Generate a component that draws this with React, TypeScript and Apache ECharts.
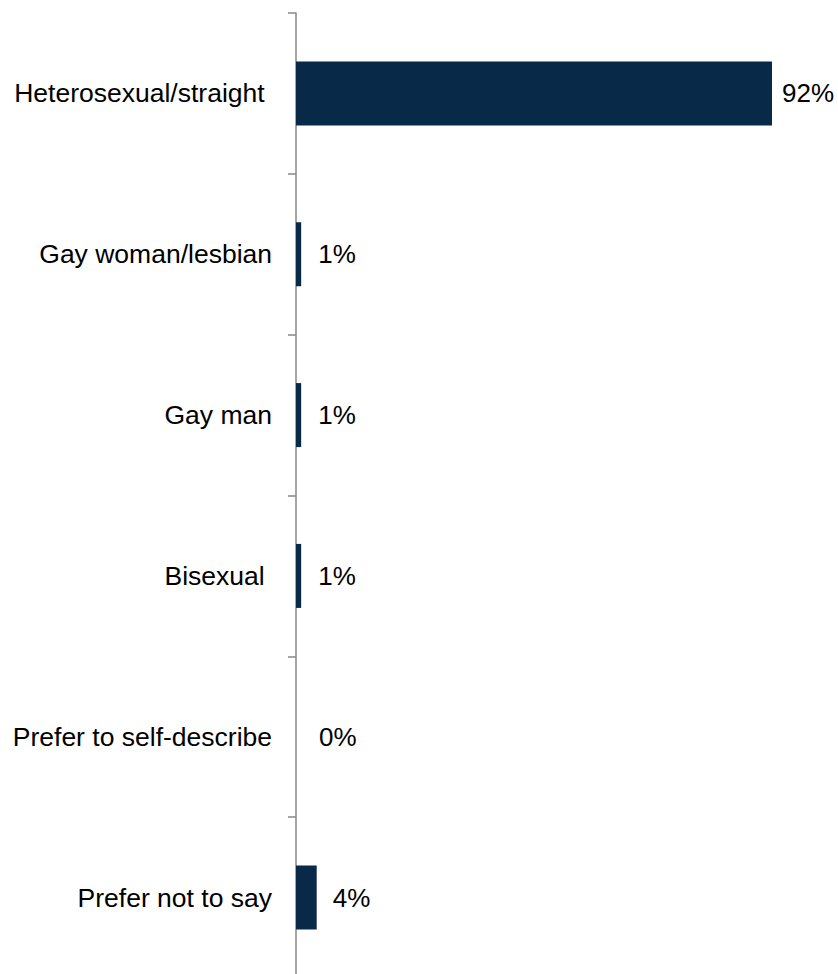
import React, { useEffect, useRef } from "react";
import * as echarts from "echarts";

const categories = [
  "Heterosexual/straight ",
  "Gay woman/lesbian",
  "Gay man",
  "Bisexual ",
  "Prefer to self-describe",
  "Prefer not to say",
];
const values = [92, 1, 1, 1, 0, 4];
const labelGaps = [10, 17, 17, 17, 23, 16];

const FONT = "'Liberation Sans', Arial, sans-serif";

export default function App() {
  const ref = useRef<HTMLDivElement>(null);
  useEffect(() => {
    if (!ref.current) return;
    const chart = echarts.init(ref.current, undefined, { renderer: "svg" });
    chart.setOption({
      animation: false,
      backgroundColor: "#ffffff",
      grid: {
        left: 296,
        top: 13,
        width: 517.4,
        height: 965,
        containLabel: false,
        outerBoundsMode: "none",
      },
      xAxis: {
        type: "value",
        min: 0,
        max: 100,
        show: false,
        splitLine: { show: false },
      },
      yAxis: {
        type: "category",
        inverse: true,
        data: categories,
        axisLine: { show: true, lineStyle: { color: "#898989", width: 1.5 } },
        axisTick: { show: true, length: 8, lineStyle: { color: "#898989", width: 1.5 } },
        axisLabel: {
          margin: 24,
          fontSize: 26.5,
          fontFamily: FONT,
          color: "#000000",
        },
        splitLine: { show: false },
      },
      series: [
        {
          type: "bar",
          barWidth: 64,
          itemStyle: { color: "#082948" },
          data: values.map((v, i) => ({
            value: v,
            label: { distance: labelGaps[i] },
          })),
          label: {
            show: true,
            position: "right",
            formatter: "{c}%",
            fontSize: 26,
            fontFamily: FONT,
            color: "#000000",
          },
        },
      ],
    });
    return () => chart.dispose();
  }, []);
  return (
    <div
      ref={ref}
      style={{ position: "absolute", left: 0, top: 0, width: 838, height: 974 }}
    />
  );
}
